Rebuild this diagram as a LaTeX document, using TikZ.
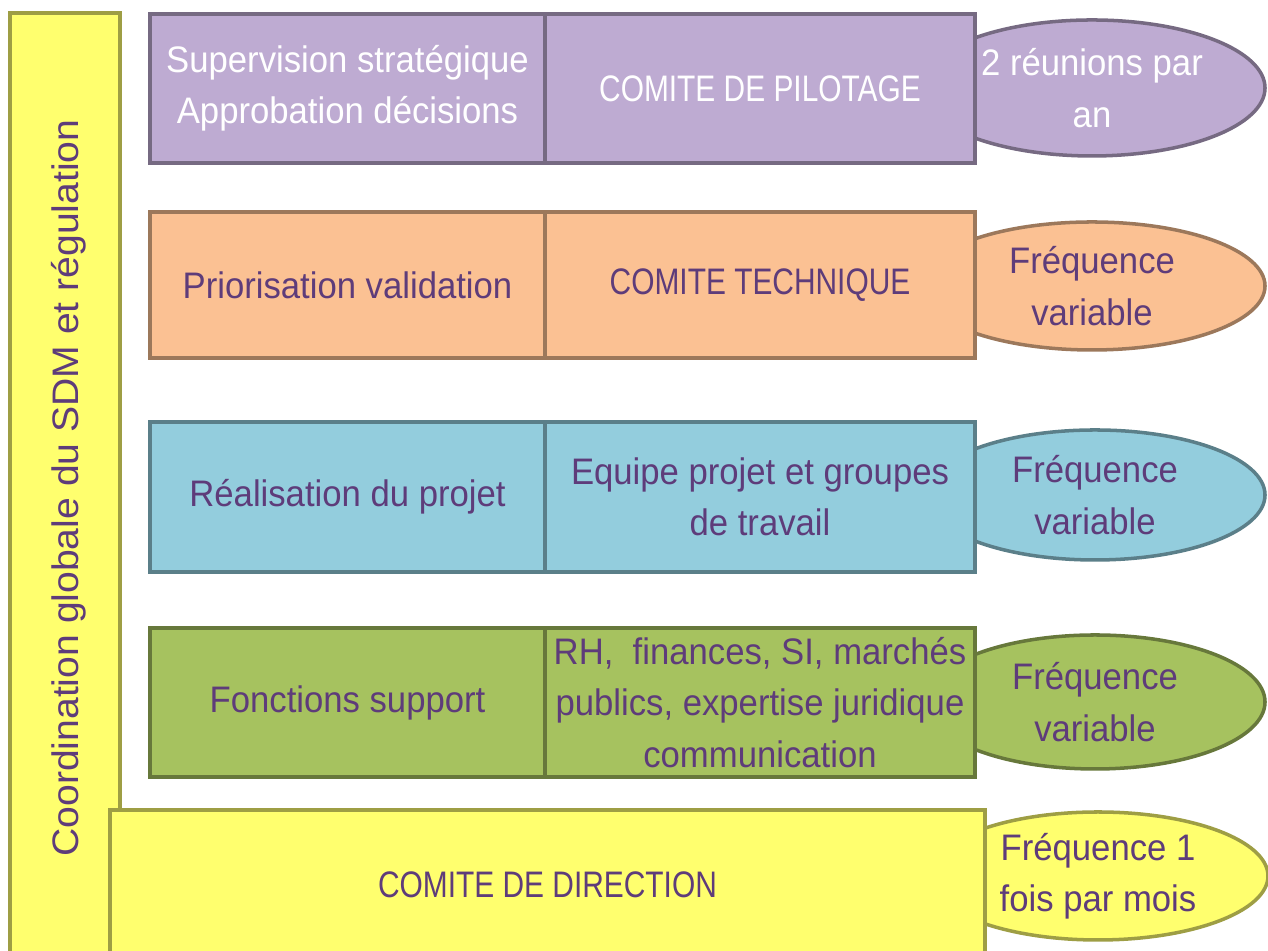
\documentclass[tikz,border=0pt]{standalone}
\usepackage{fontspec}
\setmainfont[FakeStretch=0.94]{Liberation Sans}
\newfontfamily\capsfont[FakeStretch=0.81]{Liberation Sans}
\newfontfamily\vertfont[FakeStretch=1.06]{Liberation Sans}
\usetikzlibrary{shapes.geometric}
\definecolor{lila}{HTML}{BEABD2}
\definecolor{orang}{HTML}{FBC193}
\definecolor{bleu}{HTML}{93CDDD}
\definecolor{vert}{HTML}{A6C25F}
\definecolor{jaune}{HTML}{FFFF6E}
\definecolor{txt}{HTML}{5E3C7A}
\tikzset{
  bloc/.style={fill=#1,draw=#1!62!black,line width=1.3pt,inner sep=0pt,
    align=center,text=txt,font=\fontsize{10.5}{14.6}\selectfont},
  freq/.style={ellipse,bloc=#1,line width=1pt},
  comite/.style={font=\capsfont\fontsize{10.5}{14.6}\selectfont},
  blanc/.style={text=white}
}
\begin{document}
\begin{tikzpicture}
  \useasboundingbox(0,0)rectangle(12.68,9.51);
  % frequences (derriere les blocs)
  \node[freq=lila,blanc,minimum width=3.46cm,minimum height=1.36cm](f1)at(10.92,8.63){2 réunions par\\an};
  \node[freq=orang,minimum width=3.46cm,minimum height=1.28cm](f2)at(10.92,6.65){Fréquence\\variable};
  \node[freq=bleu,minimum width=3.40cm,minimum height=1.30cm](f3)at(10.95,4.56){Fréquence\\variable};
  \node[freq=vert,minimum width=3.40cm,minimum height=1.34cm](f4)at(10.95,2.49){Fréquence\\variable};
  \node[freq=jaune,minimum width=3.40cm,minimum height=1.28cm](f5)at(10.98,0.75){Fréquence 1\\fois par mois};
  % barre verticale
  \node[bloc=jaune,minimum width=1.10cm,minimum height=9.47cm](coord)at(0.65,4.645){};
  \node[rotate=90,text=txt,font=\vertfont\fontsize{10.5}{14.6}\selectfont](coordtxt)at(0.69,4.63){Coordination globale du SDM et régulation};
  % niveaux
  \node[bloc=lila,blanc,minimum width=3.95cm,minimum height=1.49cm](r1a)at(3.475,8.625){Supervision stratégique\\Approbation décisions};
  \node[bloc=lila,blanc,comite,minimum width=4.30cm,minimum height=1.49cm](r1b)at(7.60,8.625){COMITE DE PILOTAGE};
  \node[bloc=orang,minimum width=3.95cm,minimum height=1.46cm](r2a)at(3.475,6.66){Priorisation validation};
  \node[bloc=orang,comite,minimum width=4.30cm,minimum height=1.46cm](r2b)at(7.60,6.66){COMITE TECHNIQUE};
  \node[bloc=bleu,minimum width=3.95cm,minimum height=1.50cm](r3a)at(3.475,4.54){Réalisation du projet};
  \node[bloc=bleu,minimum width=4.30cm,minimum height=1.50cm](r3b)at(7.60,4.54){Equipe projet et groupes\\de travail};
  \node[bloc=vert,minimum width=3.95cm,minimum height=1.49cm](r4a)at(3.475,2.485){Fonctions support};
  \node[bloc=vert,minimum width=4.30cm,minimum height=1.49cm](r4b)at(7.60,2.485){RH,~ finances, SI, marchés\\publics, expertise juridique\\communication};
  \node[bloc=jaune,comite,minimum width=8.75cm,minimum height=1.50cm](r5)at(5.475,0.66){COMITE DE DIRECTION};
\end{tikzpicture}
\end{document}
